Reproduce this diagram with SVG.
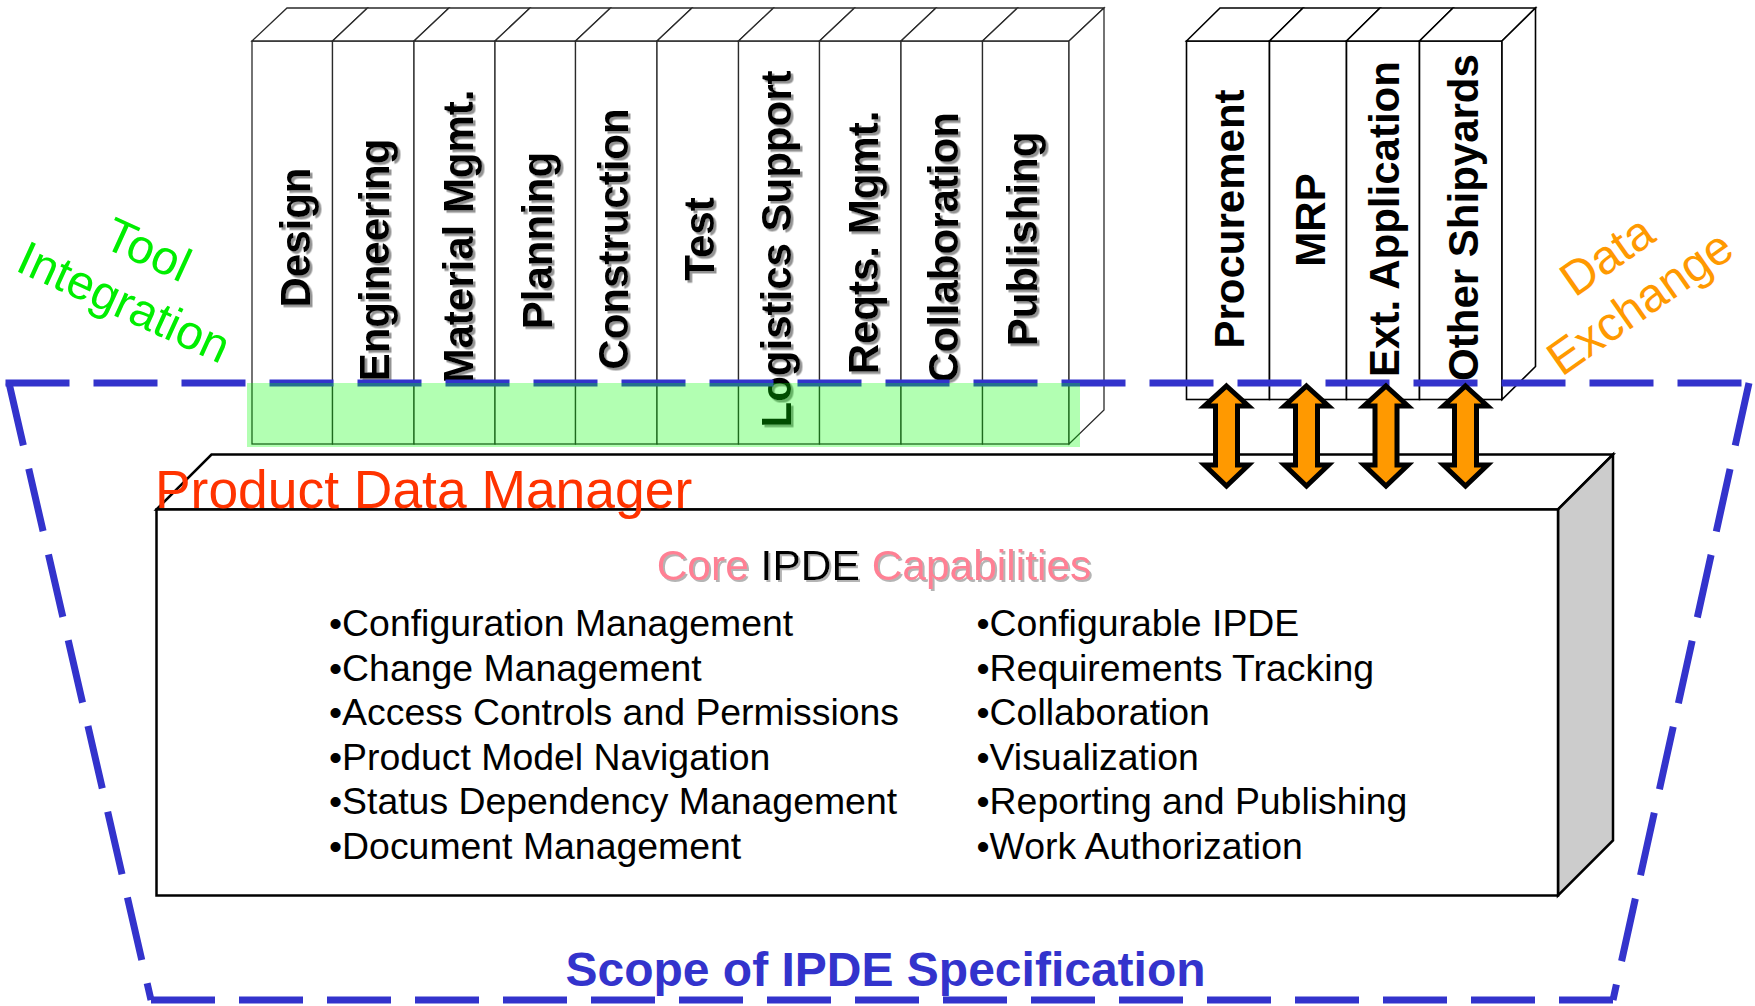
<svg xmlns="http://www.w3.org/2000/svg" width="1755" height="1006" viewBox="0 0 1755 1006">
  <defs>
    <filter id="labelShadow" x="-20%" y="-20%" width="140%" height="140%">
      <feDropShadow dx="2.5" dy="2.5" stdDeviation="0.6" flood-color="#808080" flood-opacity="0.85"/>
    </filter>
    <filter id="titleShadow" x="-10%" y="-30%" width="120%" height="160%">
      <feDropShadow dx="2" dy="2" stdDeviation="0.6" flood-color="#b4b4b4" flood-opacity="1"/>
    </filter>
    <!-- double-headed exchange arrow, centred on x = 0 -->
    <path id="dblArrow" d="M0,386 L22,406 L11,406 L11,465 L22,465 L0,486 L-22,465 L-11,465 L-11,406 L-22,406 Z"/>
  </defs>
  <style>
    .face{fill:#ffffff;stroke:#2a2a2a;stroke-width:1.3;stroke-linejoin:miter}
    .dface{fill:#ffffff;stroke:#000000;stroke-width:1.6;stroke-linejoin:miter}
    .box{fill:#ffffff;stroke:#000000;stroke-width:2.5;stroke-linejoin:miter}
    .boxSide{fill:#cccccc;stroke:#000000;stroke-width:2.5;stroke-linejoin:miter}
    .vlabel{font-family:"Liberation Sans",Arial,Helvetica,sans-serif;font-weight:bold;font-size:42px;fill:#000000;text-anchor:middle}
    .bullet{font-family:"Liberation Sans",Arial,Helvetica,sans-serif;font-size:37.4px;fill:#000000}
    .scope{fill:none;stroke:#3333cc;stroke-width:7;stroke-dasharray:64 24;stroke-linecap:butt}
    .arrow{fill:#ff9900;stroke:#000000;stroke-width:5;stroke-linejoin:miter;stroke-miterlimit:6}
    .zoneText{font-family:"Liberation Sans",Arial,Helvetica,sans-serif;font-size:48px;text-anchor:middle}
  </style>

  <rect x="0" y="0" width="1755" height="1006" fill="#ffffff"/>

  <!-- engineering tool stack -->
  <g id="tool-stack">
    <g id="tool-design">
      <rect class="face" x="252" y="41" width="80.5" height="403"/>
      <polygon class="face" points="252,41 287,8 367.5,8 332.5,41"/>
      <g filter="url(#labelShadow)"><text class="vlabel" transform="translate(310,237.5) rotate(-90)">Design</text></g>
    </g>
    <g id="tool-engineering">
      <rect class="face" x="332.5" y="41" width="81.5" height="403"/>
      <polygon class="face" points="332.5,41 367.5,8 449,8 414,41"/>
      <g filter="url(#labelShadow)"><text class="vlabel" transform="translate(389,260) rotate(-90)">Engineering</text></g>
    </g>
    <g id="tool-material">
      <rect class="face" x="414" y="41" width="81" height="403"/>
      <polygon class="face" points="414,41 449,8 530,8 495,41"/>
      <g filter="url(#labelShadow)"><text class="vlabel" transform="translate(473,236.5) rotate(-90)">Material Mgmt.</text></g>
    </g>
    <g id="tool-planning">
      <rect class="face" x="495" y="41" width="80.5" height="403"/>
      <polygon class="face" points="495,41 530,8 610.5,8 575.5,41"/>
      <g filter="url(#labelShadow)"><text class="vlabel" transform="translate(552,240.5) rotate(-90)">Planning</text></g>
    </g>
    <g id="tool-construction">
      <rect class="face" x="575.5" y="41" width="81.5" height="403"/>
      <polygon class="face" points="575.5,41 610.5,8 692,8 657,41"/>
      <g filter="url(#labelShadow)"><text class="vlabel" transform="translate(628,239) rotate(-90)">Construction</text></g>
    </g>
    <g id="tool-test">
      <rect class="face" x="657" y="41" width="81.5" height="403"/>
      <polygon class="face" points="657,41 692,8 773.5,8 738.5,41"/>
      <g filter="url(#labelShadow)"><text class="vlabel" transform="translate(714,239) rotate(-90)">Test</text></g>
    </g>
    <g id="tool-logistics">
      <rect class="face" x="738.5" y="41" width="81" height="403"/>
      <polygon class="face" points="738.5,41 773.5,8 854.5,8 819.5,41"/>
      <g filter="url(#labelShadow)"><text class="vlabel" transform="translate(791,249) rotate(-90)">Logistics Support</text></g>
    </g>
    <g id="tool-reqts">
      <rect class="face" x="819.5" y="41" width="81.5" height="403"/>
      <polygon class="face" points="819.5,41 854.5,8 936,8 901,41"/>
      <g filter="url(#labelShadow)"><text class="vlabel" transform="translate(878,242.5) rotate(-90)">Reqts. Mgmt.</text></g>
    </g>
    <g id="tool-collaboration">
      <rect class="face" x="901" y="41" width="81.5" height="403"/>
      <polygon class="face" points="901,41 936,8 1017.5,8 982.5,41"/>
      <g filter="url(#labelShadow)"><text class="vlabel" transform="translate(958,247.5) rotate(-90)">Collaboration</text></g>
    </g>
    <g id="tool-publishing">
      <rect class="face" x="982.5" y="41" width="86.5" height="403"/>
      <polygon class="face" points="982.5,41 1017.5,8 1104,8 1069,41"/>
      <polygon class="face" points="1069,41 1104,8 1104,410 1069,444"/>
      <g filter="url(#labelShadow)"><text class="vlabel" transform="translate(1037,239) rotate(-90)">Publishing</text></g>
    </g>
  </g>

  <!-- external data sources -->
  <g id="data-stack">
    <g id="data-procurement">
      <rect class="dface" x="1186.5" y="41" width="83" height="358.5"/>
      <polygon class="dface" points="1186.5,41 1220,8 1303,8 1269.5,41"/>
      <text class="vlabel" transform="translate(1244,219) rotate(-90)">Procurement</text>
    </g>
    <g id="data-mrp">
      <rect class="dface" x="1269.5" y="41" width="77" height="358.5"/>
      <polygon class="dface" points="1269.5,41 1303,8 1380,8 1346.5,41"/>
      <text class="vlabel" transform="translate(1325,220) rotate(-90)">MRP</text>
    </g>
    <g id="data-ext-application">
      <rect class="dface" x="1346.5" y="41" width="73" height="358.5"/>
      <polygon class="dface" points="1346.5,41 1380,8 1453,8 1419.5,41"/>
      <text class="vlabel" transform="translate(1399,219) rotate(-90)">Ext. Application</text>
    </g>
    <g id="data-other-shipyards">
      <rect class="dface" x="1419.5" y="41" width="82.5" height="358.5"/>
      <polygon class="dface" points="1419.5,41 1453,8 1535.5,8 1502,41"/>
      <polygon class="dface" points="1502,41 1535.5,8 1535.5,366.5 1502,399.5"/>
      <text class="vlabel" transform="translate(1478,217.5) rotate(-90)">Other Shipyards</text>
    </g>
  </g>

  <!-- product data manager box -->
  <g id="product-data-manager">
    <polygon class="box" points="156.5,509.5 211.5,454.5 1613,454.5 1558,509.5"/>
    <polygon class="boxSide" points="1558,509.5 1613,454.5 1613,840.5 1558,895.5"/>
    <rect class="box" x="156.5" y="509.5" width="1401.5" height="386"/>
    <text x="155" y="508" font-family="'Liberation Sans',Arial,Helvetica,sans-serif" font-size="53.4" fill="#ff3300">Product Data Manager</text>
    <g filter="url(#titleShadow)">
      <text x="874" y="580" text-anchor="middle" font-family="'Liberation Sans',Arial,Helvetica,sans-serif" font-size="42.5"><tspan fill="#ff8094">Core</tspan> <tspan fill="#000000">IPDE</tspan> <tspan fill="#ff8094">Capabilities</tspan></text>
    </g>
    <g class="bullet">
      <text x="329" y="636">•Configuration Management</text>
      <text x="329" y="680.6">•Change Management</text>
      <text x="329" y="725.2">•Access Controls and Permissions</text>
      <text x="329" y="769.8">•Product Model Navigation</text>
      <text x="329" y="814.4">•Status Dependency Management</text>
      <text x="329" y="859">•Document Management</text>
      <text x="976.5" y="636">•Configurable IPDE</text>
      <text x="976.5" y="680.6">•Requirements Tracking</text>
      <text x="976.5" y="725.2">•Collaboration</text>
      <text x="976.5" y="769.8">•Visualization</text>
      <text x="976.5" y="814.4">•Reporting and Publishing</text>
      <text x="976.5" y="859">•Work Authorization</text>
    </g>
  </g>

  <!-- specification boundary -->
  <g id="ipde-scope">
    <line class="scope" x1="5.5" y1="383" x2="1749" y2="383"/>
    <line class="scope" x1="9" y1="383" x2="151" y2="1000"/>
    <line class="scope" x1="1749" y1="383" x2="1613" y2="1000"/>
    <line class="scope" x1="151" y1="1000" x2="1613" y2="1000"/>
    <text x="885.5" y="986" text-anchor="middle" font-family="'Liberation Sans',Arial,Helvetica,sans-serif" font-weight="bold" font-size="48" fill="#3333cc">Scope of IPDE Specification</text>
  </g>

  <!-- tool integration band -->
  <rect id="tool-integration-band" x="247" y="383" width="833" height="64" fill="#00ff00" fill-opacity="0.3"/>

  <!-- data exchange connectors -->
  <g id="connectors">
    <use href="#dblArrow" class="arrow" x="1226.5"/>
    <use href="#dblArrow" class="arrow" x="1306.5"/>
    <use href="#dblArrow" class="arrow" x="1386"/>
    <use href="#dblArrow" class="arrow" x="1465.5"/>
  </g>

  <!-- zone captions -->
  <g id="tool-integration-label" class="zoneText" fill="#00ee00" transform="translate(117.3,317) rotate(24.5)">
    <text x="0" y="-57.6">Tool</text>
    <text x="0" y="0">Integration</text>
  </g>
  <g id="data-exchange-label" class="zoneText" fill="#ff9900" transform="translate(1649.3,316) rotate(-35)">
    <text x="0" y="-57.6">Data</text>
    <text x="0" y="0">Exchange</text>
  </g>
</svg>
